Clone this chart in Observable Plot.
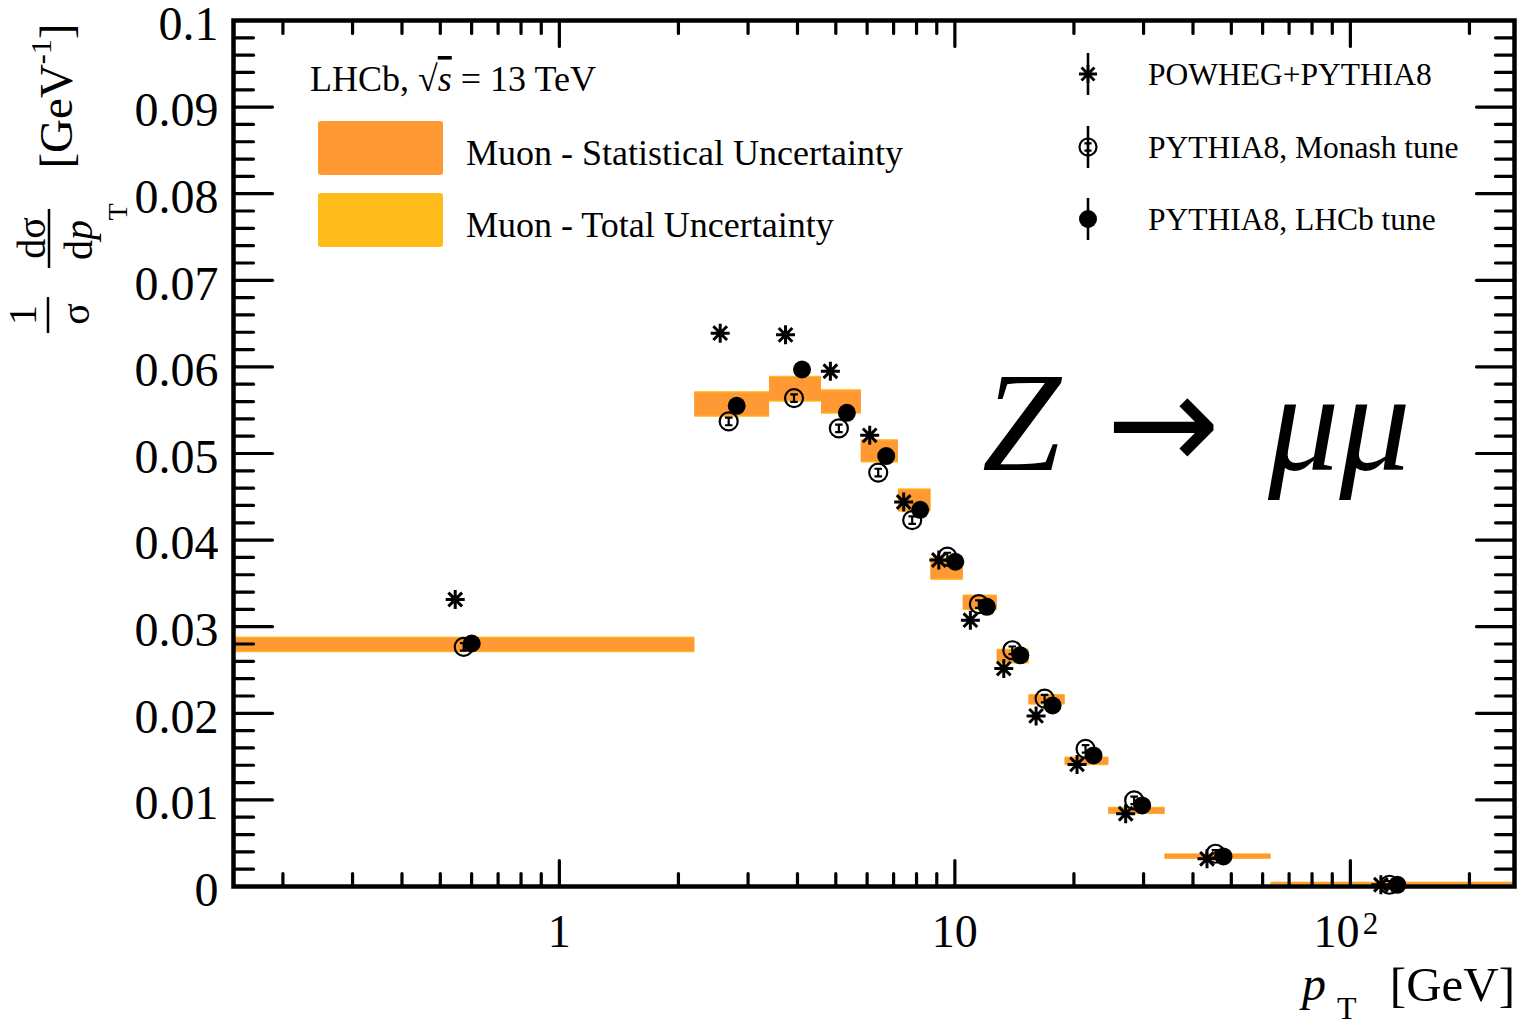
<!DOCTYPE html>
<html><head><meta charset="utf-8">
<script src="https://cdn.jsdelivr.net/npm/d3@7"></script>
<script src="https://cdn.jsdelivr.net/npm/@observablehq/plot@0.6"></script>
<style>
html,body{margin:0;padding:0;background:#fff;}
#chart{position:absolute;left:0;top:0;}
</style></head><body><div id="chart"></div>
<script>
// ---------- data ----------
const binEdges = [0, 2.2, 3.4, 4.6, 5.8, 7.2, 8.7, 10.5, 12.8, 15.4, 19.0, 24.5, 34.0, 63.0, 270.0];
const pointPT  = [0.573, 2.68, 3.92, 5.09, 6.40, 7.80, 9.57, 11.5, 13.97, 16.86, 21.4, 28.4, 45.6, 125.5];
const muonValue    = [0.0279, 0.05566, 0.05742, 0.05595, 0.05025, 0.04457, 0.03665, 0.03276, 0.02655, 0.02156, 0.01445, 0.00873, 0.00345, 0.00035];
const muonStatErr  = [0.00077, 0.00133, 0.00135, 0.00127, 0.0012, 0.0012, 0.00115, 0.00077, 0.00073, 0.0005, 0.0004, 0.00033, 0.00025, 0.0001];
const muonTotalErr = [0.0009, 0.00148, 0.0015, 0.00142, 0.00135, 0.00135, 0.0013, 0.0009, 0.00086, 0.00062, 0.0005, 0.00042, 0.00032, 0.00015];
const powhegPythia8 = [0.03314, 0.0639, 0.0637, 0.0595, 0.0521, 0.0444, 0.0377, 0.03075, 0.02517, 0.0197, 0.0141, 0.0084, 0.0032, 0.0002];
const pythia8Monash = [0.02767, 0.0537, 0.0564, 0.0529, 0.0478, 0.0423, 0.0381, 0.0326, 0.02728, 0.0217, 0.0159, 0.00994, 0.00378, 0.0002];
const pythia8LHCb   = [0.02806, 0.0555, 0.0597, 0.0547, 0.0497, 0.0435, 0.0375, 0.0323, 0.0267, 0.0209, 0.01514, 0.00936, 0.00347, 0.0002];
const xDomain = [0.15, 260];
const yDomain = [0, 0.1];
const xMajorTicks = [1, 10, 100];
const xMinorTicks = [0.2,0.3,0.4,0.5,0.6,0.7,0.8,0.9, 2,3,4,5,6,7,8,9, 20,30,40,50,60,70,80,90, 200];
const yMajorTicks = [0, 0.01, 0.02, 0.03, 0.04, 0.05, 0.06, 0.07, 0.08, 0.09, 0.1];
const yMinorTicks = d3.range(0, 50).map(i => +(i * 0.002).toFixed(3)).filter(v => Math.round(v * 1000) % 10 !== 0);
const yTickLabels = ["0", "0.01", "0.02", "0.03", "0.04", "0.05", "0.06", "0.07", "0.08", "0.09", "0.1"];
const xTickLabels = ["1", "10"];
const seriesNames = ["POWHEG+PYTHIA8", "PYTHIA8, Monash tune", "PYTHIA8, LHCb tune"];
const bandNames = ["Muon - Statistical Uncertainty", "Muon - Total Uncertainty"];

// ---------- tables ----------
const bins = muonValue.map((v, i) => ({
  lo: Math.max(binEdges[i], xDomain[0]), hi: binEdges[i + 1],
  v, stat: muonStatErr[i], tot: muonTotalErr[i]
}));
const points = pointPT.map((pt, i) => ({pt, powheg: powhegPythia8[i], monash: pythia8Monash[i], lhcb: pythia8LHCb[i]}));

// ---------- styles ----------
const SERIF = '"Liberation Serif", "Times New Roman", "DejaVu Serif", serif';
const statColor = "#FF9933";
const totColor = "#FFBB1A";
const starSymbol = {draw(ctx, size) {
  const r = Math.sqrt(size / Math.PI), d = r * 0.72;
  ctx.moveTo(0, -r); ctx.lineTo(0, r);
  ctx.moveTo(-r, 0); ctx.lineTo(r, 0);
  ctx.moveTo(-d, -d); ctx.lineTo(d, d);
  ctx.moveTo(-d, d); ctx.lineTo(d, -d);
}};
const openSymbol = {draw(ctx, size) {
  const r = Math.sqrt(size / Math.PI), c = r * 0.42, w = r * 0.42;
  ctx.moveTo(r, 0); ctx.arc(0, 0, r, 0, 2 * Math.PI);
  ctx.moveTo(-w, -c); ctx.lineTo(w, -c);
  ctx.moveTo(-w, c); ctx.lineTo(w, c);
  ctx.moveTo(0, -c); ctx.lineTo(0, c);
}};
const tickShape = {draw(ctx, l) { ctx.moveTo(0, 0); ctx.lineTo(0, -l); }};
const tickOpts = {anchor: "start", shape: tickShape, stroke: "black", strokeWidth: 3.2};

const plot = Plot.plot({
  width: 1523, height: 1025,
  marginLeft: 233, marginRight: 9, marginTop: 20, marginBottom: 139,
  style: {fontFamily: SERIF, background: "white", color: "black"},
  x: {type: "log", domain: xDomain, axis: null},
  y: {domain: yDomain, axis: null},
  marks: [
    Plot.rect(bins, {x1: "lo", x2: "hi", y1: d => d.v - d.tot, y2: d => d.v + d.tot, fill: totColor, clip: true}),
    Plot.rect(bins, {x1: "lo", x2: "hi", y1: d => d.v - d.stat, y2: d => d.v + d.stat, fill: statColor, clip: true}),
    Plot.dot(points, {x: "pt", y: "powheg", symbol: starSymbol, r: 9.5, stroke: "black", strokeWidth: 3, fill: "none", dx: -8.5}),
    Plot.dot(points, {x: "pt", y: "monash", symbol: openSymbol, r: 9, stroke: "black", strokeWidth: 2.2, fill: "none"}),
    Plot.dot(points, {x: "pt", y: "lhcb", r: 9, fill: "black", stroke: "none", dx: 8}),
    // ticks (inward, on all four sides)
    Plot.vector(yMajorTicks, {x: () => xDomain[0], y: d => d, length: 39, rotate: 90, ...tickOpts}),
    Plot.vector(yMinorTicks, {x: () => xDomain[0], y: d => d, length: 20, rotate: 90, ...tickOpts}),
    Plot.vector(yMajorTicks, {x: () => xDomain[1], y: d => d, length: 38, rotate: -90, ...tickOpts}),
    Plot.vector(yMinorTicks, {x: () => xDomain[1], y: d => d, length: 19, rotate: -90, ...tickOpts}),
    Plot.vector(xMajorTicks, {x: d => d, y: () => yDomain[0], length: 26, rotate: 0, ...tickOpts}),
    Plot.vector(xMinorTicks, {x: d => d, y: () => yDomain[0], length: 13, rotate: 0, ...tickOpts}),
    Plot.vector(xMajorTicks, {x: d => d, y: () => yDomain[1], length: 26, rotate: 180, ...tickOpts}),
    Plot.vector(xMinorTicks, {x: d => d, y: () => yDomain[1], length: 13, rotate: 180, ...tickOpts}),
    Plot.frame({stroke: "black", strokeWidth: 4.5}),
    // tick labels
    Plot.text(yMajorTicks, {y: d => d, text: (d, i) => yTickLabels[i], frameAnchor: "left", textAnchor: "end", dx: -15, dy: 4, fontSize: 48, fill: "black"}),
    Plot.text(xMajorTicks.slice(0, 2), {x: d => d, text: (d, i) => xTickLabels[i], frameAnchor: "bottom", dy: 60, fontSize: 46, fill: "black"}),
    Plot.text([100], {x: d => d, text: () => "10", frameAnchor: "bottom", dy: 60, dx: -14, fontSize: 46, fill: "black"}),
    Plot.text([100], {x: d => d, text: () => "2", frameAnchor: "bottom", dy: 47, dx: 20, fontSize: 31, fill: "black"})
  ]
});
document.getElementById("chart").appendChild(plot);

// ---------- annotations: titles and legends ----------
const svg = d3.select(plot);
const g = svg.append("g").attr("font-family", SERIF).attr("fill", "black").attr("text-anchor", "start");

function rtext(x, y, size) {
  return g.append("text").attr("transform", `translate(${x},${y}) rotate(-90)`)
    .attr("text-anchor", "middle").attr("dominant-baseline", "central").attr("font-size", size);
}
// y-axis title: 1/σ dσ/dp_T [GeV^-1]
rtext(22, 315, 40).text("1");
g.append("line").attr("x1", 48).attr("x2", 48).attr("y1", 297).attr("y2", 333).attr("stroke", "black").attr("stroke-width", 2.5);
rtext(75, 314, 40).text("σ");
rtext(31, 238, 40).text("dσ");
g.append("line").attr("x1", 49).attr("x2", 49).attr("y1", 209).attr("y2", 268).attr("stroke", "black").attr("stroke-width", 2.5);
const dp = rtext(78, 240, 40);
dp.append("tspan").text("d");
dp.append("tspan").attr("font-style", "italic").text("p");
rtext(117, 212, 28).text("T");
const gev = rtext(56, 96, 47);
gev.append("tspan").text("[GeV");
gev.append("tspan").attr("font-size", 30).attr("dy", -16).text("-1");
gev.append("tspan").attr("dy", 16).text("]");

// x-axis title: p_T [GeV]
g.append("text").attr("x", 1302).attr("y", 1000).attr("font-size", 48).attr("font-style", "italic").text("p");
g.append("text").attr("x", 1337).attr("y", 1019).attr("font-size", 32).text("T");
g.append("text").attr("x", 1515).attr("y", 1001).attr("font-size", 49).attr("text-anchor", "end").text("[GeV]");

// LHCb label
const lhcb = g.append("text").attr("x", 310).attr("y", 91).attr("font-size", 36);
lhcb.append("tspan").text("LHCb, √");
lhcb.append("tspan").attr("font-style", "italic").attr("text-decoration", "overline").text("s");
lhcb.append("tspan").text(" = 13 TeV");

// band legend
[[statColor, 121], [totColor, 193]].forEach(([c, y], i) => {
  g.append("rect").attr("x", 318).attr("y", y).attr("width", 125).attr("height", 54).attr("rx", 3).attr("fill", c);
  g.append("text").attr("x", 466).attr("y", y + 44).attr("font-size", 36).text(bandNames[i]);
});

// marker legend
const legendSyms = [
  {sym: starSymbol, size: Math.PI * 9 * 9, fill: "none", stroke: "black", sw: 2.8},
  {sym: openSymbol, size: Math.PI * 8.5 * 8.5, fill: "none", stroke: "black", sw: 2.2},
  {sym: d3.symbolCircle, size: Math.PI * 9 * 9, fill: "black", stroke: "none", sw: 0}
];
[74, 147, 219].forEach((y, i) => {
  g.append("line").attr("x1", 1088).attr("x2", 1088).attr("y1", y - 21).attr("y2", y + 21).attr("stroke", "black").attr("stroke-width", 2.6);
  const s = legendSyms[i];
  g.append("path").attr("d", d3.symbol(s.sym, s.size)()).attr("transform", `translate(1088,${y})`)
    .attr("fill", s.fill).attr("stroke", s.stroke).attr("stroke-width", s.sw);
  g.append("text").attr("x", 1148).attr("y", y + 11).attr("font-size", 31.5).text(seriesNames[i]);
});

// process label
const zt = g.append("text").attr("y", 470).attr("font-size", 142);
zt.append("tspan").attr("x", 982).attr("font-style", "italic").text("Z");
zt.append("tspan").attr("x", 1106).attr("font-family", '"DejaVu Sans", sans-serif').attr("font-size", 136).text("→");
zt.append("tspan").attr("x", 1268).attr("font-style", "italic").text("μμ");
</script>
</body></html>
